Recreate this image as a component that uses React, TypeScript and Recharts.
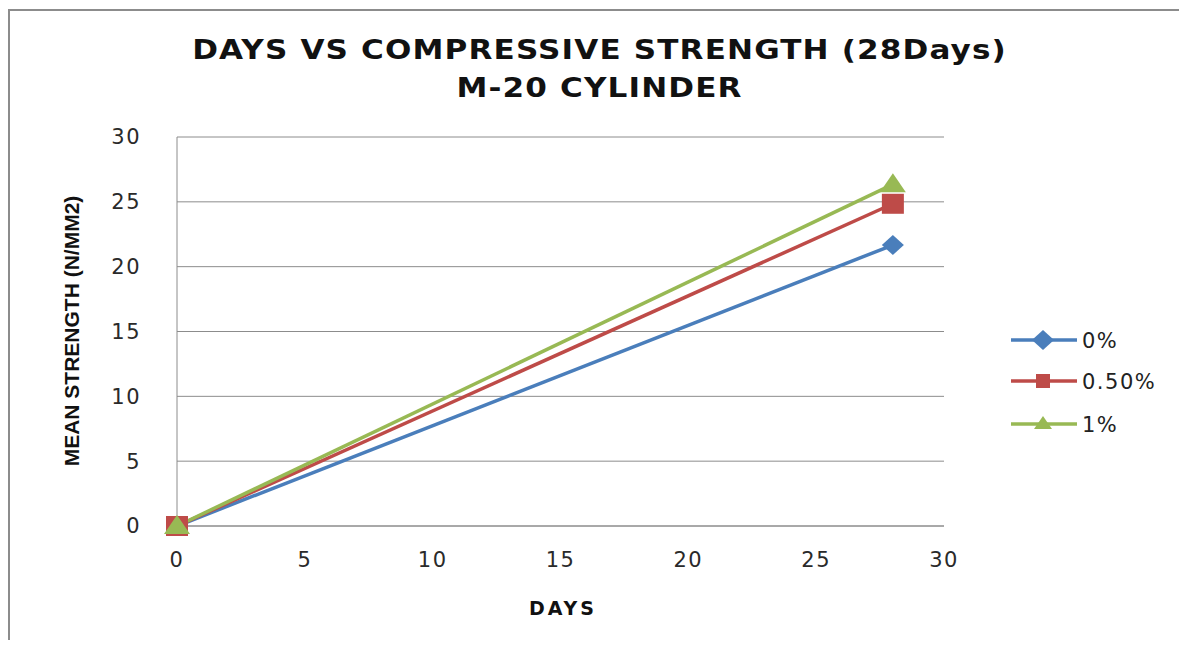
import React from "react";
import { LineChart, Line, XAxis, YAxis, CartesianGrid } from "recharts";

const days = [0, 28];
const mix0 = [0, 21.67];
const mix050 = [0, 24.85];
const mix1 = [0, 26.35];
const xTicks = [0, 5, 10, 15, 20, 25, 30];
const yTicks = [0, 5, 10, 15, 20, 25, 30];

const BLUE = "#4a7ebb";
const RED = "#be4b48";
const GREEN = "#98b954";

const toPoints = (vals: number[]) => days.map((d, i) => ({ day: d, v: vals[i] }));

function Diamond(props: any) {
  const { cx, cy } = props;
  if (cx == null || cy == null) return null;
  return <path d={`M${cx},${cy - 10} L${cx + 11},${cy} L${cx},${cy + 10} L${cx - 11},${cy} Z`} fill={BLUE} />;
}

function Square(props: any) {
  const { cx, cy } = props;
  if (cx == null || cy == null) return null;
  return <rect x={cx - 11} y={cy - 10} width={22} height={20} fill={RED} />;
}

function Triangle(props: any) {
  const { cx, cy } = props;
  if (cx == null || cy == null) return null;
  return <path d={`M${cx},${cy - 11} L${cx + 13},${cy + 8} L${cx - 13},${cy + 8} Z`} fill={GREEN} />;
}

const legendItems = [
  { name: "0%", color: BLUE, marker: "diamond", y: 340 },
  { name: "0.50%", color: RED, marker: "square", y: 381 },
  { name: "1%", color: GREEN, marker: "triangle", y: 424 },
];

function LegendBox() {
  return (
    <svg width={180} height={130} style={{ position: "absolute", left: 1005, top: 320 }}>
      {legendItems.map((it) => {
        const y = it.y - 320;
        const cx = 38;
        return (
          <g key={it.name}>
            <line x1={6} x2={72} y1={y} y2={y} stroke={it.color} strokeWidth={3.5} />
            {it.marker === "diamond" && <Diamond cx={cx} cy={y} />}
            {it.marker === "square" && <rect x={cx - 7} y={y - 7} width={14} height={14} fill={it.color} />}
            {it.marker === "triangle" && (
              <path d={`M${cx},${y - 8} L${cx + 9},${y + 5} L${cx - 9},${y + 5} Z`} fill={it.color} />
            )}
            <text x={77} y={y + 8} fontSize={21} fontFamily="DejaVu Sans" fill="#222" letterSpacing={1.5}>
              {it.name}
            </text>
          </g>
        );
      })}
    </svg>
  );
}

export default function App() {
  const tickStyle = { fontSize: 21, fontFamily: "DejaVu Sans", fill: "#2a2a2a", letterSpacing: 1.5 };
  return (
    <div style={{ position: "relative", width: 1187, height: 648, margin: -8, background: "#fff", overflow: "hidden" }}>
      <div
        style={{
          position: "absolute",
          left: 8,
          top: 9,
          width: 1200,
          height: 700,
          borderLeft: "2px solid #8c8c8c",
          borderTop: "2px solid #8c8c8c",
        }}
      />
      <div
        style={{
          position: "absolute",
          left: 0,
          width: 1187,
          top: 31,
          textAlign: "center",
          fontFamily: "DejaVu Sans",
          fontWeight: "bold",
          fontSize: 27,
          lineHeight: "38px",
          letterSpacing: 1,
          color: "#111",
          paddingLeft: 12,
          boxSizing: "border-box",
          transform: "scaleX(1.15)",
          transformOrigin: "599px 50%",
        }}
      >
        <div>DAYS VS COMPRESSIVE STRENGTH (28Days)</div>
        <div>M-20 CYLINDER</div>
      </div>
      <div style={{ position: "absolute", left: 0, top: 0 }}>
        <LineChart width={1187} height={648} margin={{ top: 137, right: 243, bottom: 82, left: 117 }}>
          <CartesianGrid horizontal={true} vertical={false} stroke="#8c8c8c" strokeWidth={1} />
          <XAxis
            type="number"
            dataKey="day"
            domain={[0, 30]}
            ticks={xTicks}
            allowDuplicatedCategory={false}
            stroke="#8c8c8c"
            tickLine={false}
            tick={tickStyle}
            tickMargin={20}
            height={40}
          />
          <YAxis
            type="number"
            dataKey="v"
            domain={[0, 30]}
            ticks={yTicks}
            stroke="#8c8c8c"
            tickLine={false}
            tick={tickStyle}
            tickMargin={30}
            width={60}
          />
          <Line data={toPoints(mix0)} dataKey="v" name="0%" stroke={BLUE} strokeWidth={3.5} dot={<Diamond />} isAnimationActive={false} />
          <Line data={toPoints(mix050)} dataKey="v" name="0.50%" stroke={RED} strokeWidth={3.5} dot={<Square />} isAnimationActive={false} />
          <Line data={toPoints(mix1)} dataKey="v" name="1%" stroke={GREEN} strokeWidth={3.5} dot={<Triangle />} isAnimationActive={false} />
        </LineChart>
      </div>
      <div
        style={{
          position: "absolute",
          left: 72,
          top: 331,
          transform: "translate(-50%, -50%) rotate(-90deg)",
          whiteSpace: "nowrap",
          fontFamily: "'Liberation Sans Narrow', 'Liberation Sans'",
          fontWeight: "bold",
          fontSize: 21,
          color: "#111",
        }}
      >
        MEAN STRENGTH (N/MM2)
      </div>
      <div
        style={{
          position: "absolute",
          left: 563,
          top: 608,
          transform: "translate(-50%, -50%)",
          fontFamily: "DejaVu Sans",
          fontWeight: "bold",
          fontSize: 19,
          letterSpacing: 3,
          color: "#111",
        }}
      >
        DAYS
      </div>
      <LegendBox />
    </div>
  );
}
